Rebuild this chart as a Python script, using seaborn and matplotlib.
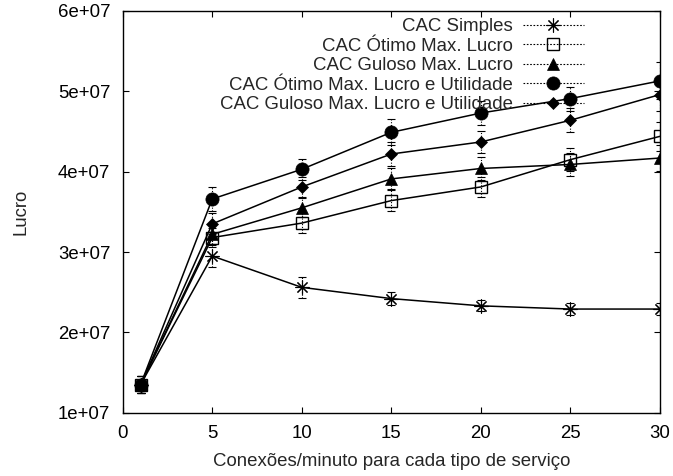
import matplotlib
matplotlib.use("Agg")
import matplotlib.pyplot as plt
from matplotlib.lines import Line2D
import seaborn as sns
import pandas as pd

x = [1, 5, 10, 15, 20, 25, 30]
simples = [1.35e7, 2.95e7, 2.56e7, 2.42e7, 2.33e7, 2.29e7, 2.29e7]
otimo_ml = [1.35e7, 3.18e7, 3.36e7, 3.64e7, 3.81e7, 4.15e7, 4.44e7]
guloso_ml = [1.35e7, 3.22e7, 3.55e7, 3.91e7, 4.04e7, 4.09e7, 4.17e7]
otimo_mlu = [1.35e7, 3.66e7, 4.03e7, 4.49e7, 4.73e7, 4.91e7, 5.13e7]
guloso_mlu = [1.35e7, 3.35e7, 3.81e7, 4.22e7, 4.37e7, 4.64e7, 4.96e7]

err_simples = [0.11e7, 0.14e7, 0.13e7, 0.08e7, 0.07e7, 0.08e7, 0.08e7]
err_otimo_ml = [0.11e7, 0.12e7, 0.12e7, 0.13e7, 0.12e7, 0.14e7, 0.18e7]
err_guloso_ml = [0.11e7, 0.12e7, 0.12e7, 0.13e7, 0.14e7, 0.14e7, 0.16e7]
err_otimo_mlu = [0.11e7, 0.15e7, 0.13e7, 0.16e7, 0.15e7, 0.15e7, 0.23e7]
err_guloso_mlu = [0.11e7, 0.13e7, 0.12e7, 0.15e7, 0.14e7, 0.15e7, 0.2e7]

labels = ["CAC Simples", "CAC Ótimo Max. Lucro", "CAC Guloso Max. Lucro",
          "CAC Ótimo Max. Lucro e Utilidade", "CAC Guloso Max. Lucro e Utilidade"]
yticks = [1e7, 2e7, 3e7, 4e7, 5e7, 6e7]
xticks = [0, 5, 10, 15, 20, 25, 30]

FS = 13.4
sns.set_theme(style="ticks")
plt.rcParams['font.family'] = ['Liberation Sans', 'DejaVu Sans']
plt.rcParams['font.size'] = FS

series = [simples, otimo_ml, guloso_ml, otimo_mlu, guloso_mlu]
errs = [err_simples, err_otimo_ml, err_guloso_ml, err_otimo_mlu, err_guloso_mlu]
styles = [
    dict(marker=(8, 2, 0), markersize=10, markerfacecolor='black', markeredgewidth=0.8),
    dict(marker='s', markersize=9, markerfacecolor='none', markeredgewidth=1.0),
    dict(marker='^', markersize=8.5, markerfacecolor='black', markeredgewidth=0.5),
    dict(marker='o', markersize=9.5, markerfacecolor='black', markeredgewidth=0.5),
    dict(marker='D', markersize=6.5, markerfacecolor='black', markeredgewidth=0.5),
]

fig = plt.figure(figsize=(6.73, 4.76), dpi=100)
ax = fig.add_axes([0.1823, 0.133, 0.7984, 0.8439])

for lab, ys, er, st in zip(labels, series, errs, styles):
    df = pd.DataFrame({"x": x, "y": ys})
    eb = ax.errorbar(x, ys, yerr=er, fmt='none', ecolor='black', elinewidth=0.8,
                     capsize=3, capthick=0.8, zorder=1)
    eb[2][0].set_linestyle((0, (1, 1.5)))
    sns.lineplot(data=df, x="x", y="y", ax=ax, color='black', linewidth=1.1,
                 markeredgecolor='black', errorbar=None, legend=False, zorder=3, **st)

handles = [Line2D([], [], color='black', linestyle=(0, (1.5, 1.5)), linewidth=0.8,
                  markeredgecolor='black', **st) for st in styles]
leg = ax.legend(handles, labels, loc='upper right', bbox_to_anchor=(0.8586, 0.982),
                markerfirst=False, frameon=False, handlelength=3.3, labelspacing=0.13,
                borderaxespad=0, borderpad=0.0, handletextpad=0.54, fontsize=FS)

ax.set_xlim(0, 30)
ax.set_ylim(1e7, 6e7)
ax.set_xticks(xticks)
ax.set_yticks(yticks)
ax.set_yticklabels(["{:.0e}".format(v) for v in yticks])
ax.set_xticklabels([str(v) for v in xticks])
ax.tick_params(direction='in', length=4.5, width=0.8, top=True, right=True,
               labelsize=FS, pad=9, colors='black')
for s in ax.spines.values():
    s.set_linewidth(1.0)
    s.set_color('black')
ax.set_xlabel("Conexões/minuto para cada tipo de serviço", fontsize=FS, labelpad=8)
ax.set_ylabel("Lucro", fontsize=FS, labelpad=20)

fig.savefig("out.png", dpi=100)
